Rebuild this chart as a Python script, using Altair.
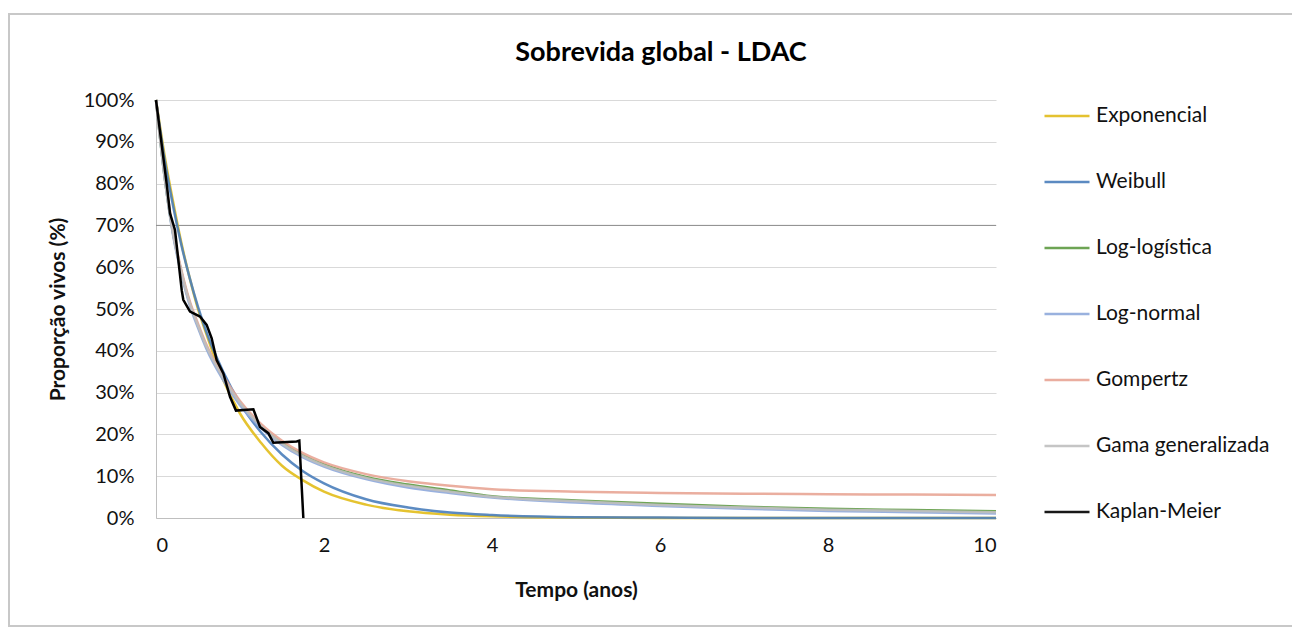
import altair as alt
import pandas as pd

# ---- data ----
title_text = ["Sobrevida global - LDAC"]
series = ["Exponencial", "Weibull", "Log-logística", "Log-normal",
          "Gompertz", "Gama generalizada", "Kaplan-Meier"]
colors = ["#E2BC1A", "#4A7EBB", "#5E9B42", "#8EA9DB",
          "#E8A595", "#BFBFBF", "#000000"]

t_grid = [0, 0.1, 0.2, 0.3, 0.4, 0.5, 0.6, 0.8, 1.0, 1.25, 1.5, 1.75,
          2, 2.5, 3, 3.5, 4, 5, 6, 7, 8, 9, 10]
exponencial = [1, 0.87, 0.76, 0.66, 0.575, 0.50, 0.44, 0.33, 0.25, 0.18, 0.125, 0.09,
               0.063, 0.032, 0.016, 0.008, 0.004, 0.001, 0, 0, 0, 0, 0]
weibull = [1, 0.86, 0.75, 0.655, 0.575, 0.505, 0.445, 0.35, 0.275, 0.205, 0.152, 0.112,
           0.083, 0.045, 0.025, 0.013, 0.007, 0.002, 0.001, 0, 0, 0, 0]
log_logistica = [1, 0.82, 0.685, 0.59, 0.515, 0.46, 0.41, 0.335, 0.275, 0.22, 0.18, 0.15,
                 0.128, 0.098, 0.08, 0.066, 0.052, 0.042, 0.034, 0.027, 0.022, 0.019, 0.016]
log_normal = [1, 0.82, 0.68, 0.585, 0.51, 0.455, 0.405, 0.33, 0.27, 0.215, 0.175, 0.145,
              0.123, 0.093, 0.073, 0.06, 0.049, 0.037, 0.029, 0.022, 0.017, 0.014, 0.011]
gompertz = [1, 0.83, 0.69, 0.595, 0.52, 0.465, 0.415, 0.34, 0.28, 0.225, 0.185, 0.155,
            0.133, 0.105, 0.088, 0.077, 0.069, 0.063, 0.06, 0.058, 0.057, 0.056, 0.055]
gama_gen = [1, 0.82, 0.685, 0.59, 0.515, 0.46, 0.41, 0.335, 0.275, 0.22, 0.178, 0.148,
            0.126, 0.096, 0.077, 0.063, 0.051, 0.04, 0.031, 0.025, 0.02, 0.017, 0.014]

km_t = [0, 0.127, 0.167, 0.226, 0.306, 0.325, 0.405, 0.524, 0.603, 0.663, 0.722, 0.802,
        0.881, 0.952, 1.159, 1.238, 1.337, 1.397, 1.675, 1.706, 1.754]
km_s = [1.0, 0.80, 0.729, 0.689, 0.545, 0.522, 0.494, 0.482, 0.462, 0.430, 0.378, 0.346,
        0.29, 0.257, 0.26, 0.218, 0.203, 0.18, 0.183, 0.185, 0.0]

y_ticks = [0, 0.1, 0.2, 0.3, 0.4, 0.5, 0.6, 0.7, 0.8, 0.9, 1.0]
x_ticks = [0, 2, 4, 6, 8, 10]
dark_grid = [0.7]

# ---- tables ----
model_vals = [exponencial, weibull, log_logistica, log_normal, gompertz, gama_gen]
rows = []
for order, (name, vals) in enumerate(zip(series[:6], model_vals)):
    for t, s in zip(t_grid, vals):
        rows.append({"serie": name, "t": t, "s": s, "ord": order})
models = pd.DataFrame(rows)
km = pd.DataFrame({"serie": "Kaplan-Meier", "t": km_t, "s": km_s})

FONT = "Lato"
W, H = 840, 418
PAD_L, PAD_T, PAD_R, PAD_B = 148, 92, 296, 110

color_scale = alt.Scale(domain=series, range=colors)

x_enc = alt.X("t:Q", scale=alt.Scale(domain=[0, 10], nice=False),
              axis=alt.Axis(values=x_ticks, format="d", title="Tempo (anos)", grid=False,
                            ticks=False, domain=True, domainColor="#BFBFBF",
                            labelFontSize=20, labelPadding=17, labelColor="#111",
                            titleFontSize=21, titleFontWeight="bold", titleColor="#111",
                            titleX=W / 2, titleY=72, titleBaseline="middle"))
y_enc = alt.Y("s:Q", scale=alt.Scale(domain=[0, 1], nice=False),
              axis=alt.Axis(values=y_ticks, format=".0%", title="Proporção vivos (%)",
                            grid=True, gridColor="#D9D9D9", ticks=False, domain=True,
                            domainColor="#BFBFBF", labelFontSize=20, labelPadding=22,
                            labelColor="#111", titleFontSize=21, titleFontWeight="bold",
                            titleColor="#111", titleX=-98, titleY=H / 2,
                            titleBaseline="middle", titleAngle=-90, titleAlign="center"))

legend = alt.Legend(title=None, orient="none", legendX=887, legendY=-8,
                    symbolType="stroke", symbolSize=2025, symbolStrokeWidth=2.5,
                    labelFontSize=21, labelColor="#111", labelOffset=5,
                    labelLimit=400, rowPadding=32, labelFont=FONT)

frame = alt.Chart(pd.DataFrame({"a": [0]})).mark_rect(
    fill="transparent", stroke="#C8C8C8", strokeWidth=2
).encode(x=alt.value(-147), x2=alt.value(1143), y=alt.value(-86), y2=alt.value(526))

title = alt.Chart(pd.DataFrame({"txt": title_text})).mark_text(
    font=FONT, fontSize=27, fontWeight="bold", color="#000",
    align="center", baseline="alphabetic"
).encode(text="txt:N", x=alt.value(505), y=alt.value(-39))

dark = alt.Chart(pd.DataFrame({"g": dark_grid})).mark_rule(
    color="#8C8C8C", strokeWidth=1
).encode(y=alt.Y("g:Q", scale=alt.Scale(domain=[0, 1])))

model_lines = alt.Chart(models).mark_line(
    strokeWidth=2.5, interpolate="monotone", opacity=0.9
).encode(
    x=x_enc, y=y_enc,
    color=alt.Color("serie:N", scale=color_scale, legend=legend, sort=series),
    order=alt.Order("t:Q"),
    detail="serie:N",
)

km_line = alt.Chart(km).mark_line(strokeWidth=2.5, color="#000").encode(
    x=alt.X("t:Q"), y=alt.Y("s:Q"),
    color=alt.Color("serie:N", scale=color_scale, legend=legend, sort=series),
)

chart = alt.layer(frame, title, dark, model_lines, km_line).properties(
    width=W, height=H,
    autosize=alt.AutoSizeParams(type="none"),
    padding={"left": PAD_L, "top": PAD_T, "right": PAD_R, "bottom": PAD_B},
).configure(font=FONT, background="white").configure_view(stroke=None)

chart.save("out.html", embed_options={"renderer": "svg", "actions": False})
